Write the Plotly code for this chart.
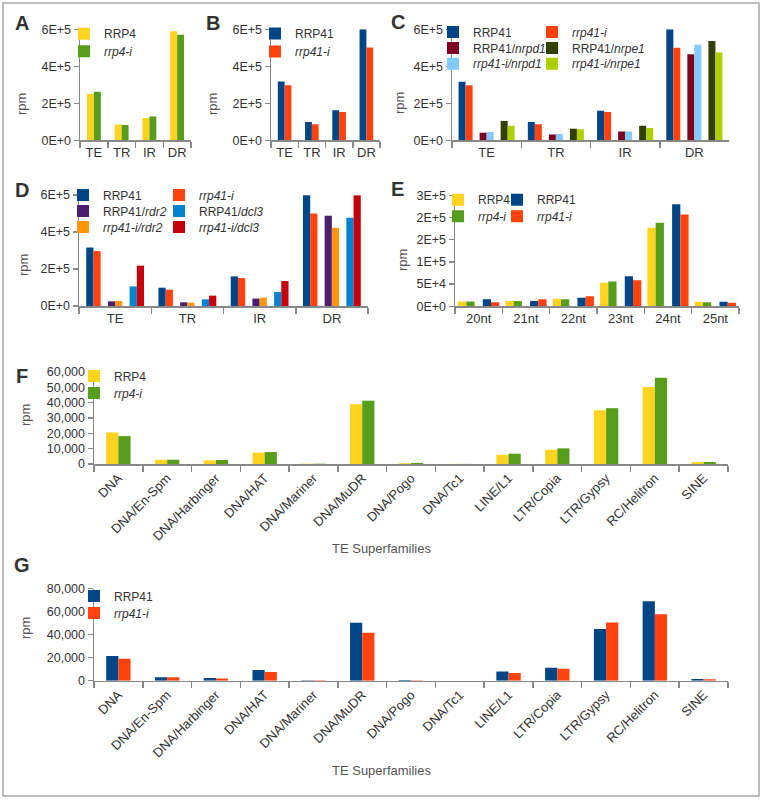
import plotly.graph_objects as go

W, H = 763, 800

# ---------------- data ----------------
regions = ["TE", "TR", "IR", "DR"]

a_rrp4 = [2.52e5, 0.86e5, 1.21e5, 5.90e5]
a_rrp4i = [2.63e5, 0.83e5, 1.28e5, 5.71e5]

b_rrp41 = [3.18e5, 0.99e5, 1.62e5, 6.00e5]
b_rrp41i = [2.97e5, 0.87e5, 1.53e5, 5.02e5]

c_rrp41 = [3.16e5, 0.99e5, 1.60e5, 6.00e5]
c_rrp41i = [2.97e5, 0.87e5, 1.53e5, 5.00e5]
c_nrpd1 = [0.41e5, 0.31e5, 0.47e5, 4.65e5]
c_rrp41i_nrpd1 = [0.45e5, 0.34e5, 0.47e5, 5.17e5]
c_nrpe1 = [1.05e5, 0.63e5, 0.79e5, 5.37e5]
c_rrp41i_nrpe1 = [0.79e5, 0.60e5, 0.67e5, 4.74e5]

d_rrp41 = [3.16e5, 0.99e5, 1.60e5, 5.98e5]
d_rrp41i = [2.97e5, 0.88e5, 1.51e5, 5.00e5]
d_rdr2 = [0.25e5, 0.20e5, 0.40e5, 4.88e5]
d_rrp41i_rdr2 = [0.27e5, 0.18e5, 0.45e5, 4.23e5]
d_dcl3 = [1.06e5, 0.36e5, 0.76e5, 4.77e5]
d_rrp41i_dcl3 = [2.18e5, 0.56e5, 1.35e5, 5.98e5]

lengths = ["20nt", "21nt", "22nt", "23nt", "24nt", "25nt"]
e_rrp4 = [1.1e4, 1.2e4, 1.7e4, 5.3e4, 1.77e5, 1.0e4]
e_rrp4i = [1.1e4, 1.2e4, 1.6e4, 5.6e4, 1.88e5, 0.9e4]
e_rrp41 = [1.6e4, 1.2e4, 1.95e4, 6.75e4, 2.30e5, 1.0e4]
e_rrp41i = [0.9e4, 1.6e4, 2.25e4, 5.85e4, 2.07e5, 0.8e4]

families = ["DNA", "DNA/En-Spm", "DNA/Harbinger", "DNA/HAT", "DNA/Mariner",
            "DNA/MuDR", "DNA/Pogo", "DNA/Tc1", "LINE/L1", "LTR/Copia",
            "LTR/Gypsy", "RC/Helitron", "SINE"]
f_rrp4 = [20600, 2800, 2400, 7400, 200, 39000, 500, 50, 6000, 9300, 35000, 50200, 1300]
f_rrp4i = [18200, 2800, 2600, 7800, 200, 41300, 700, 50, 6700, 10200, 36400, 56300, 1300]
g_rrp41 = [21400, 2900, 2300, 9300, 300, 50400, 600, 50, 8100, 11300, 44900, 69000, 1400]
g_rrp41i = [19100, 2900, 2000, 7500, 300, 41700, 300, 50, 6700, 10400, 50700, 57700, 1200]

sci_vals = [0, 2e5, 4e5, 6e5]
sci_text = ["0E+0", "2E+5", "4E+5", "6E+5"]
e_vals = [0, 5e4, 1e5, 1.5e5, 2e5, 2.5e5]
e_text = ["0E+0", "5E+4", "1E+5", "2E+5", "2E+5", "3E+5"]

# ---------------- style ----------------
C_RRP41 = "#004586"
C_RRP41I = "#ff420e"
C_RRP4 = "#ffd320"
C_RRP4I = "#579d1c"
C_NRPD1 = "#7e0021"
C_I_NRPD1 = "#83caff"
C_NRPE1 = "#314004"
C_I_NRPE1 = "#aecf00"
C_RDR2 = "#4b1f6f"
C_I_RDR2 = "#ff950e"
C_DCL3 = "#0084d1"
C_I_DCL3 = "#c5000b"

FONT = "Liberation Sans, Arial, sans-serif"
TXT = "#333333"
AX = "#888888"


def px(x):
    return x / W


def py(y):
    return 1 - y / H


fig = go.Figure()
layout = dict(
    width=W, height=H, margin=dict(l=0, r=0, t=0, b=0, autoexpand=False),
    paper_bgcolor="white", plot_bgcolor="white",
    font=dict(family=FONT, size=12, color=TXT),
    barmode="group", showlegend=True,
)
annotations = []
legend_count = [0]


def new_legend(xt, yc):
    legend_count[0] += 1
    n = legend_count[0]
    key = "legend" if n == 1 else f"legend{n}"
    layout[key] = dict(
        x=px(xt - 40), y=py(yc), xanchor="left", yanchor="middle",
        bgcolor="rgba(0,0,0,0)", borderwidth=0,
        font=dict(family=FONT, size=12, color=TXT),
        orientation="v", tracegroupgap=0,
    )
    return key


def add_panel(idx, cats, x0, x1, y0, y1, rng, tickvals, ticktext, gap, nslots,
              series, tickangle=0, catfont=13):
    xa = "xaxis" if idx == 1 else f"xaxis{idx}"
    ya = "yaxis" if idx == 1 else f"yaxis{idx}"
    xr = "x" if idx == 1 else f"x{idx}"
    yr = "y" if idx == 1 else f"y{idx}"
    layout[xa] = dict(
        domain=[px(x0), px(x1)], anchor=yr, type="category",
        showline=True, linecolor=AX, linewidth=1.5,
        ticks="outside", tickson="boundaries", ticklen=6, tickcolor=AX, tickwidth=1.5,
        showgrid=False, zeroline=False, tickangle=tickangle, automargin=False,
        tickfont=dict(family=FONT, size=catfont, color=TXT),
        categoryorder="array", categoryarray=cats, fixedrange=True,
    )
    yd = dict(
        domain=[py(y1), py(y0)], anchor=xr, range=rng,
        showline=True, linecolor=AX, linewidth=1.5,
        ticks="outside", ticklen=5, tickcolor=AX, tickwidth=1.5,
        showgrid=False, zeroline=False, automargin=False,
        tickfont=dict(family=FONT, size=12.5, color=TXT), fixedrange=True,
    )
    if ticktext is not None:
        yd.update(tickmode="array", tickvals=tickvals, ticktext=ticktext)
    else:
        yd.update(tickmode="array", tickvals=tickvals, tickformat=",d")
    layout[ya] = yd
    span = 1 - gap
    w = span / nslots
    for (name, vals, color, slot, lx, ly) in series:
        leg = new_legend(lx, ly)
        fig.add_trace(go.Bar(
            x=cats, y=vals, name=name, marker=dict(color=color, line=dict(width=0)),
            xaxis=xr, yaxis=yr, width=w, offset=-span / 2 + slot * w,
            legend=leg, hoverinfo="skip",
        ))


def letter(t, x, y):
    annotations.append(dict(text=f"<b>{t}</b>", x=px(x), y=py(y), xref="paper", yref="paper",
                            showarrow=False, xanchor="center", yanchor="middle",
                            font=dict(family=FONT, size=20, color="#333333")))


def ylab(x, y):
    annotations.append(dict(text="rpm", x=px(x), y=py(y), xref="paper", yref="paper",
                            showarrow=False, xanchor="center", yanchor="middle", textangle=-90,
                            font=dict(family=FONT, size=13, color="#555555")))


def xlab(t, x, y):
    annotations.append(dict(text=t, x=px(x), y=py(y), xref="paper", yref="paper",
                            showarrow=False, xanchor="center", yanchor="middle",
                            font=dict(family=FONT, size=13, color="#555555")))


# A
add_panel(1, regions, 80, 191, 29.3, 140.3, [0, 6e5], sci_vals, sci_text, 0.5, 2, [
    ("RRP4", a_rrp4, C_RRP4, 0, 104, 33.7),
    ("<i>rrp4-i</i>", a_rrp4i, C_RRP4I, 1, 104, 51.3),
])
# B
add_panel(2, regions, 271, 380, 29.3, 140.3, [0, 6e5], sci_vals, sci_text, 0.5, 2, [
    ("RRP41", b_rrp41, C_RRP41, 0, 295, 33.5),
    ("<i>rrp41-i</i>", b_rrp41i, C_RRP41I, 1, 295, 51.5),
])
# C
add_panel(3, regions, 452, 729, 29.3, 140.3, [0, 6e5], sci_vals, sci_text, 0.19, 8, [
    ("RRP41", c_rrp41, C_RRP41, 0, 473, 32),
    ("<i>rrp41-i</i>", c_rrp41i, C_RRP41I, 1, 572, 32),
    ("RRP41/<i>nrpd1</i>", c_nrpd1, C_NRPD1, 3, 473, 48),
    ("<i>rrp41-i/nrpd1</i>", c_rrp41i_nrpd1, C_I_NRPD1, 4, 473, 63.7),
    ("RRP41/<i>nrpe1</i>", c_nrpe1, C_NRPE1, 6, 572, 48),
    ("<i>rrp41-i/nrpe1</i>", c_rrp41i_nrpe1, C_I_NRPE1, 7, 572, 63.7),
])
# D
add_panel(4, regions, 79, 368, 195, 306, [0, 6e5], sci_vals, sci_text, 0.2, 8, [
    ("RRP41", d_rrp41, C_RRP41, 0, 103, 195),
    ("<i>rrp41-i</i>", d_rrp41i, C_RRP41I, 1, 199, 195),
    ("RRP41/<i>rdr2</i>", d_rdr2, C_RDR2, 3, 103, 211),
    ("<i>rrp41-i/rdr2</i>", d_rrp41i_rdr2, C_I_RDR2, 4, 103, 227),
    ("RRP41/<i>dcl3</i>", d_dcl3, C_DCL3, 6, 199, 211),
    ("<i>rrp41-i/dcl3</i>", d_rrp41i_dcl3, C_I_DCL3, 7, 199, 227),
])
# E
add_panel(5, lengths, 455, 739, 195.3, 306.3, [0, 2.5e5], e_vals, e_text, 0.13, 5, [
    ("RRP4", e_rrp4, C_RRP4, 0, 478, 199.7),
    ("<i>rrp4-i</i>", e_rrp4i, C_RRP4I, 1, 478, 216.3),
    ("RRP41", e_rrp41, C_RRP41, 3, 537, 199.7),
    ("<i>rrp41-i</i>", e_rrp41i, C_RRP41I, 4, 537, 216.3),
])
# F
add_panel(6, families, 94, 728, 372, 464, [0, 60000], list(range(0, 60001, 10000)), None, 0.5, 2, [
    ("RRP4", f_rrp4, C_RRP4, 0, 114, 376),
    ("<i>rrp4-i</i>", f_rrp4i, C_RRP4I, 1, 114, 393),
], tickangle=-45, catfont=13)
# G
add_panel(7, families, 94, 728, 588.7, 680.7, [0, 80000], list(range(0, 80001, 20000)), None, 0.5, 2, [
    ("RRP41", g_rrp41, C_RRP41, 0, 114, 596),
    ("<i>rrp41-i</i>", g_rrp41i, C_RRP41I, 1, 114, 613),
], tickangle=-45, catfont=13)

for t, x, y in [("A", 22, 23), ("B", 213, 23), ("C", 398, 22), ("D", 22, 190),
                ("E", 397, 189), ("F", 22, 376), ("G", 22, 565)]:
    letter(t, x, y)
for x, y in [(21, 104), (212, 104), (399, 103), (23, 265), (403, 260), (25, 415), (25, 628)]:
    ylab(x, y)
xlab("TE Superfamilies", 381, 548)
xlab("TE Superfamilies", 381, 770)

layout["annotations"] = annotations
layout["shapes"] = [dict(type="rect", xref="paper", yref="paper",
                         x0=px(3), x1=px(759), y0=py(796), y1=py(3),
                         line=dict(color="#a8a8a8", width=1.5), fillcolor="rgba(0,0,0,0)")]
fig.update_layout(**layout)
fig.write_html("out.html", config={"displayModeBar": False, "staticPlot": True},
               post_script="document.body.style.margin='0';document.body.style.overflow='hidden';")
